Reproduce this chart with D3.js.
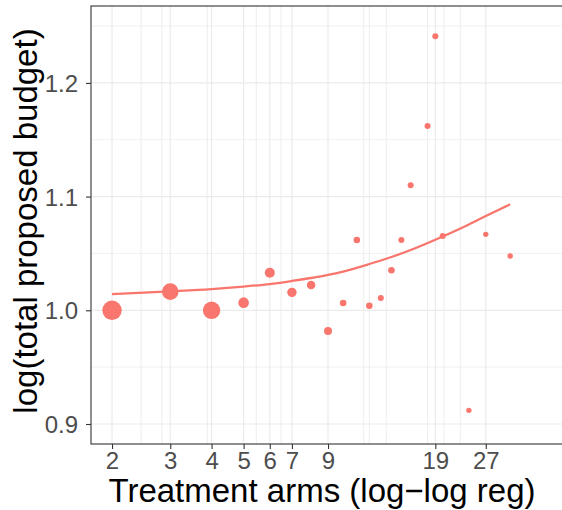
<!DOCTYPE html>
<html>
<head>
<meta charset="utf-8">
<script src="https://cdn.jsdelivr.net/npm/d3@7"></script>
<style>
  body { margin: 0; background: white; }
  text { font-family: "Liberation Sans", Arial, sans-serif; }
</style>
</head>
<body>
<div id="chart"></div>
<script>
// treatment arms and log(total proposed budget), one point per arm count
var arms   = [2, 3, 4, 5, 6, 7, 8, 9, 10, 11, 12, 13, 14, 15, 16, 18, 19, 20, 24, 27, 32];
var budget = [1.000, 1.0164, 1.000, 1.0067, 1.0331, 1.0158, 1.0223, 0.9818, 1.0064, 1.0618,
              1.0040, 1.0108, 1.0352, 1.0618, 1.1099, 1.1621, 1.241, 1.0653, 0.912, 1.0668, 1.0478];
var weight = [13, 9.5, 10.5, 3.9, 3.45, 3.05, 2.55, 2.2, 1.5, 1.5,
              1.5, 1.25, 1.5, 1.25, 1.25, 1.25, 1.25, 1.25, 1.0, 1.0, 1.0];

// fitted curve
var fitArms   = [2, 3, 4, 5, 6, 7, 8, 9, 10, 12, 14, 16, 20, 24, 27, 32];
var fitBudget = [1.0143, 1.0167, 1.0187, 1.0209, 1.0231, 1.0258, 1.0284, 1.0311, 1.0341,
                 1.0407, 1.0469, 1.0530, 1.0649, 1.0755, 1.0829, 1.0932];

var xTicks = [2, 3, 4, 5, 6, 7, 9, 19, 27];
var xGrid  = [2.45, 2.83, 3.88, 5.46, 6.49, 11.54, 12, 13.5, 18, 20.2, 22.6];
var yTicks = [0.9, 1.0, 1.1, 1.2];
var yMinor = [0.95, 1.05, 1.15, 1.25];

var svgWidth = 562, svgHeight = 510;
var pLeft = 91, pTop = 6, pRight = 566, pBottom = 444;

var svg = d3.select('#chart').append('svg')
    .attr('width', svgWidth)
    .attr('height', svgHeight)
    .style('background', 'white')

var x = d3.scaleLog().domain([1.7276, 47.2]).range([pLeft, pRight])
var y = d3.scaleLinear().domain([0.88241, 1.26763]).range([pBottom, pTop])
var r = d3.scaleSqrt().domain([0, 13]).range([0, 9.7])

var panel = svg.append('g')

//minor + extra grid
panel.selectAll('.ym').data(yMinor).enter().append('line')
    .attr('x1', pLeft).attr('x2', pRight)
    .attr('y1', d => y(d)).attr('y2', d => y(d))
    .attr('stroke', '#ebebeb').attr('stroke-width', 0.7)

panel.selectAll('.xg').data(xGrid).enter().append('line')
    .attr('y1', pTop).attr('y2', pBottom)
    .attr('x1', d => x(d)).attr('x2', d => x(d))
    .attr('stroke', '#ebebeb').attr('stroke-width', 0.9)

//major grid
panel.selectAll('.yg').data(yTicks).enter().append('line')
    .attr('x1', pLeft).attr('x2', pRight)
    .attr('y1', d => y(d)).attr('y2', d => y(d))
    .attr('stroke', '#ebebeb').attr('stroke-width', 1.2)

panel.selectAll('.xM').data(xTicks).enter().append('line')
    .attr('y1', pTop).attr('y2', pBottom)
    .attr('x1', d => x(d)).attr('x2', d => x(d))
    .attr('stroke', '#ebebeb').attr('stroke-width', 1.2)

//fit line
var line = d3.line()
    .x((d, i) => x(fitArms[i]))
    .y(d => y(d))
    .curve(d3.curveMonotoneX)

svg.append('path')
    .attr('d', line(fitBudget))
    .attr('fill', 'none')
    .attr('stroke', '#F8766D')
    .attr('stroke-width', 2.3)

//points
svg.selectAll('.pt').data(arms).enter().append('circle')
    .attr('cx', d => x(d))
    .attr('cy', (d, i) => y(budget[i]))
    .attr('r', (d, i) => r(weight[i]))
    .attr('fill', '#F8766D')

//panel border
svg.append('rect')
    .attr('x', pLeft).attr('y', pTop)
    .attr('width', pRight - pLeft).attr('height', pBottom - pTop)
    .attr('fill', 'none').attr('stroke', '#333333').attr('stroke-width', 1.1)

//axes
var xAxis = d3.axisBottom(x).tickValues(xTicks).tickFormat(d3.format('d')).tickSize(5).tickSizeOuter(0)
var gx = svg.append('g').attr('transform', 'translate(0,' + pBottom + ')').call(xAxis)
gx.select('.domain').remove()
gx.selectAll('line').attr('stroke', '#333333').attr('stroke-width', 1.1)
gx.selectAll('text').attr('fill', '#4d4d4d').attr('font-size', '24px')
    .attr('font-family', '"Liberation Sans", Arial, sans-serif').attr('dy', 0).attr('y', 25)

var yAxis = d3.axisLeft(y).tickValues(yTicks).tickFormat(d3.format('.1f')).tickSize(5).tickSizeOuter(0)
var gy = svg.append('g').attr('transform', 'translate(' + pLeft + ',0)').call(yAxis)
gy.select('.domain').remove()
gy.selectAll('line').attr('stroke', '#333333').attr('stroke-width', 1.1)
gy.selectAll('text').attr('fill', '#4d4d4d').attr('font-size', '24px')
    .attr('font-family', '"Liberation Sans", Arial, sans-serif').attr('dy', '0.36em').attr('x', -13)

//titles
svg.append('text')
    .text('Treatment arms (log\u2212log reg)')
    .attr('x', 322).attr('y', 502)
    .attr('text-anchor', 'middle')
    .attr('font-size', '33px').attr('fill', 'black')

svg.append('text')
    .text('log(total proposed budget)')
    .attr('transform', 'translate(37,221) rotate(-90)')
    .attr('text-anchor', 'middle')
    .attr('font-size', '33px').attr('fill', 'black')
</script>
</body>
</html>
